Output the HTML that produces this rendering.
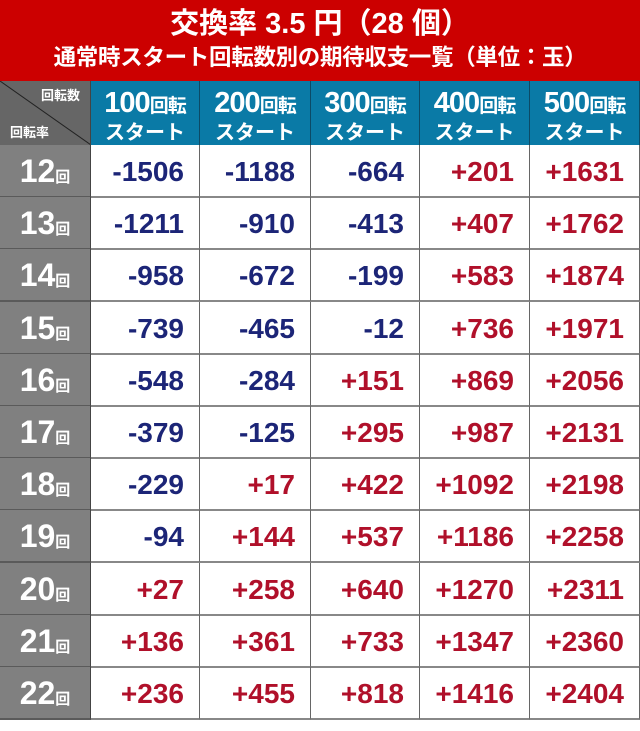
<!DOCTYPE html>
<html><head><meta charset="utf-8"><style>
body{margin:0;width:640px;height:731px;background:#fff;overflow:hidden;font-family:"Liberation Sans","Noto Sans CJK JP",sans-serif;}
.a{position:absolute;box-sizing:border-box}
.hd{left:0;top:0;width:640px;height:81px;background:#cc0000;color:#fff;font-weight:bold;text-align:center}
.t1{position:absolute;left:0;width:640px;top:7px;font-size:29px;line-height:34px}
.t2{position:absolute;left:0;width:640px;top:44px;font-size:22.5px;line-height:27px;letter-spacing:-0.3px}
.ch{background:#0a7aa6;color:#fff;font-weight:bold;text-align:center;border-right:1px solid #0c4a66;top:81px;height:64px;padding-top:8px}
.ch .n{font-size:29px;line-height:28px;letter-spacing:-1px}
.ch .n span{font-size:19px}
.ch .s{font-size:20px;line-height:25px}
.rh{left:0;width:91px;height:53px;background:#808080;color:#fff;font-weight:bold;font-size:32px;line-height:53px;text-align:center;border-bottom:2px solid #5a5a5a;border-right:1px solid #444}
.rh span{font-size:15px}
.c{height:53px;border-bottom:2px solid #888;border-right:1px solid #666;font-weight:bold;font-size:28px;line-height:53px;text-align:right;padding-right:15px}
.m{color:#1c2577}.p{color:#b0102a}
</style></head><body>
<div class="a hd"><div class="t1">交換率 3.5 円（28 個）</div><div class="t2">通常時スタート回転数別の期待収支一覧（単位：玉）</div></div>
<div class="a" style="left:0;top:81px;width:91px;height:64px;background:#666;border-right:1px solid #444;overflow:hidden">
<svg width="91" height="64" style="position:absolute;left:0;top:0"><line x1="0" y1="0" x2="91" y2="64" stroke="#222" stroke-width="1"/></svg>
<div style="position:absolute;right:10px;top:4px;color:#fff;font-weight:bold;font-size:13px">回転数</div>
<div style="position:absolute;left:10px;top:41px;color:#fff;font-weight:bold;font-size:13px">回転率</div></div>
<div id="g"></div>
<script>
var xs=[91,200,311,420,530,640];
var h='';
for(var i=0;i<5;i++){h+='<div class="a ch" style="left:'+xs[i]+'px;width:'+(xs[i+1]-xs[i])+'px"><div class="n">'+(i+1)+'00<span>回転</span></div><div class="s">スタート</div></div>';}
var d=[[-1506,-1188,-664,201,1631],[-1211,-910,-413,407,1762],[-958,-672,-199,583,1874],[-739,-465,-12,736,1971],[-548,-284,151,869,2056],[-379,-125,295,987,2131],[-229,17,422,1092,2198],[-94,144,537,1186,2258],[27,258,640,1270,2311],[136,361,733,1347,2360],[236,455,818,1416,2404]];
for(var r=0;r<11;r++){var y=145+r*52.2;
h+='<div class="a rh" style="top:'+y+'px">'+(12+r)+'<span>回</span></div>';
for(var i=0;i<5;i++){var v=d[r][i];h+='<div class="a c '+(v<0?'m':'p')+'" style="top:'+y+'px;left:'+xs[i]+'px;width:'+(xs[i+1]-xs[i])+'px">'+(v<0?'-'+(-v):'+'+v)+'</div>';}}
document.getElementById('g').innerHTML=h;
</script>
</body></html>
